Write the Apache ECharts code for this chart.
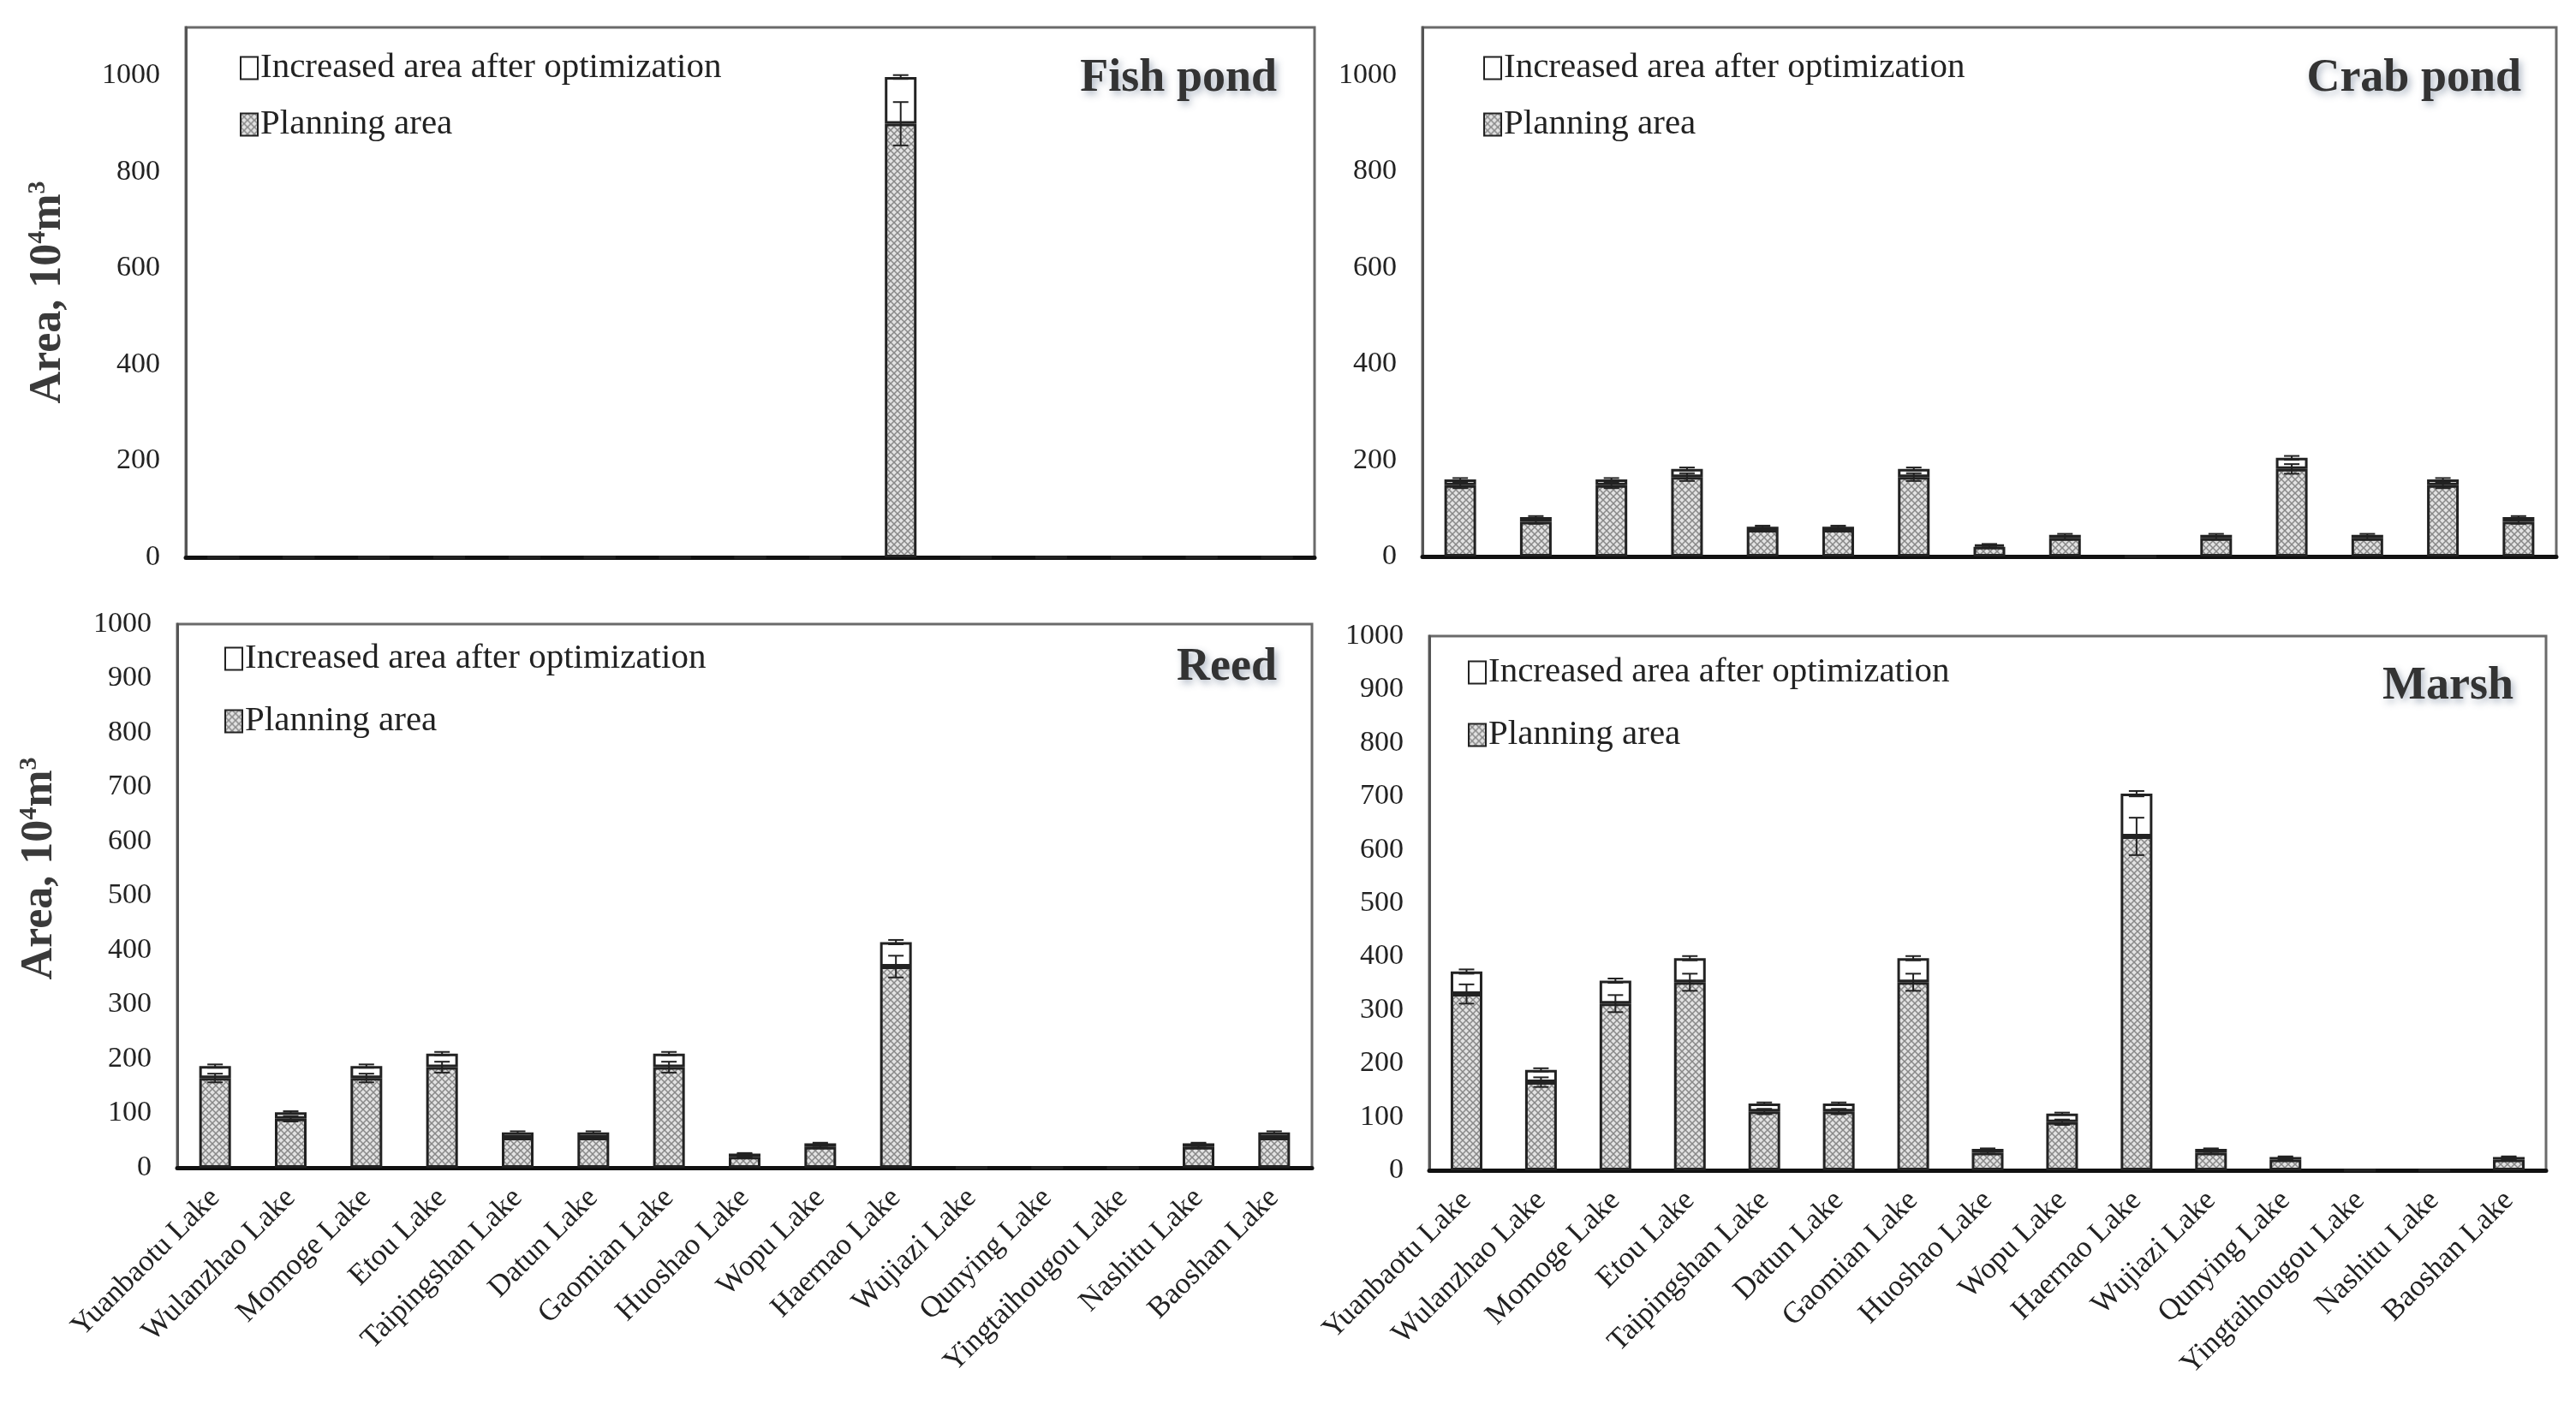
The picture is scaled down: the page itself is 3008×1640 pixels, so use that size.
<!DOCTYPE html>
<html lang="en">
<head>
<meta charset="UTF-8">
<title>Optimized area by lake</title>
<script src="https://cdn.jsdelivr.net/npm/echarts@6/dist/echarts.min.js"></script>
<style>
  html, body { margin: 0; padding: 0; background: #fff; }
  #chart { width: 3008px; height: 1640px; }
</style>
</head>
<body>
<div id="chart"></div>
<script>
// categories
var lakes = ['Yuanbaotu Lake', 'Wulanzhao Lake', 'Momoge Lake', 'Etou Lake', 'Taipingshan Lake',
  'Datun Lake', 'Gaomian Lake', 'Huoshao Lake', 'Wopu Lake', 'Haernao Lake', 'Wujiazi Lake',
  'Qunying Lake', 'Yingtaihougou Lake', 'Nashitu Lake', 'Baoshan Lake'];

// fish pond
var fishPlan    = [0, 0, 0, 0, 0, 0, 0, 0, 0, 900, 0, 0, 0, 0, 0];
var fishInc     = [0, 0, 0, 0, 0, 0, 0, 0, 0, 97, 0, 0, 0, 0, 0];
var fishPlanErr = [0, 0, 0, 0, 0, 0, 0, 0, 0, 45, 0, 0, 0, 0, 0];
var fishIncErr  = [0, 0, 0, 0, 0, 0, 0, 0, 0, 4, 0, 0, 0, 0, 0];

// crab pond
var crabPlan    = [148, 72, 148, 165, 55, 55, 165, 20, 38, 0, 38, 182, 38, 148, 72];
var crabInc     = [12, 10, 12, 17, 7, 7, 17, 5, 7, 0, 7, 23, 7, 12, 10];
var crabPlanErr = [6, 4, 6, 8, 3, 3, 8, 2, 3, 0, 3, 10, 3, 6, 4];
var crabIncErr  = [3, 2, 3, 3, 2, 2, 3, 1, 2, 0, 2, 4, 2, 3, 2];

// reed
var reedPlan    = [165, 90, 165, 185, 55, 55, 185, 20, 38, 370, 0, 0, 0, 38, 55];
var reedInc     = [22, 12, 22, 25, 10, 10, 25, 6, 7, 45, 0, 0, 0, 7, 10];
var reedPlanErr = [8, 5, 8, 10, 3, 3, 10, 1, 2, 20, 0, 0, 0, 2, 3];
var reedIncErr  = [3, 2, 3, 3, 2, 2, 3, 1, 1, 4, 0, 0, 0, 1, 2];

// marsh
var marshPlan    = [330, 165, 312, 352, 110, 110, 352, 33, 90, 625, 33, 20, 0, 0, 20];
var marshInc     = [42, 23, 43, 45, 15, 15, 45, 7, 16, 80, 7, 5, 0, 0, 5];
var marshPlanErr = [18, 9, 16, 16, 5, 5, 16, 2, 5, 35, 2, 1, 0, 0, 1];
var marshIncErr  = [4, 3, 4, 4, 2, 2, 4, 1, 2, 5, 1, 1, 0, 0, 1];

var panelTitles = ['Fish pond', 'Crab pond', 'Reed', 'Marsh'];
var incName = 'Increased area after optimization';
var planName = 'Planning area';

var serif = '"Liberation Serif", "Times New Roman", serif';

// gray cross-hatch used for the planning bars
function makeHatch() {
    var c = document.createElement('canvas');
    c.width = 8; c.height = 8;
    var g = c.getContext('2d');
    g.fillStyle = '#e2e2e2';
    g.fillRect(0, 0, 8, 8);
    g.strokeStyle = '#888';
    g.lineWidth = 1.5;
    g.beginPath();
    g.moveTo(0, 0); g.lineTo(8, 8);
    g.moveTo(8, 0); g.lineTo(0, 8);
    g.stroke();
    return c;
}
var hatch = { image: makeHatch(), repeat: 'repeat' };

function errorItem(params, api) {
    var x = api.value(0);
    var a = api.coord([x, api.value(1)]);
    var b = api.coord([x, api.value(2)]);
    var w = 9;
    var st = { stroke: '#222', lineWidth: 2 };
    return {
        type: 'group',
        children: [
            { type: 'line', shape: { x1: a[0], y1: a[1], x2: b[0], y2: b[1] }, style: st },
            { type: 'line', shape: { x1: a[0] - w, y1: a[1], x2: a[0] + w, y2: a[1] }, style: st },
            { type: 'line', shape: { x1: b[0] - w, y1: b[1], x2: b[0] + w, y2: b[1] }, style: st }
        ]
    };
}

function errData(base, err) {
    var out = [];
    for (var i = 0; i < base.length; i++) {
        if (base[i] > 0) out.push([i, base[i] - err[i], base[i] + err[i]]);
    }
    return out;
}

var panels = [
    { plan: fishPlan, inc: fishInc, pe: fishPlanErr, ie: fishIncErr },
    { plan: crabPlan, inc: crabInc, pe: crabPlanErr, ie: crabIncErr },
    { plan: reedPlan, inc: reedInc, pe: reedPlanErr, ie: reedIncErr },
    { plan: marshPlan, inc: marshInc, pe: marshPlanErr, ie: marshIncErr }
];

var grids = [
    { left: 217, top: 32, width: 1318, height: 619 },
    { left: 1661, top: 32, width: 1324, height: 618 },
    { left: 207, top: 729, width: 1325, height: 635 },
    { left: 1669, top: 743, width: 1304, height: 624 }
];
grids.forEach(function (g) {
    g.show = true;
    g.borderColor = '#6a6a6a';
    g.borderWidth = 3;
});

var titles = [
    { right: 1512, top: 60 },
    { right: 59, top: 60 },
    { right: 1512, top: 748 },
    { right: 68, top: 770 }
];
titles.forEach(function (t, i) {
    t.text = panelTitles[i];
    t.textStyle = {
        fontFamily: serif, fontWeight: 'bold', fontSize: 54, color: '#333',
        textShadowColor: 'rgba(70,90,120,0.45)', textShadowBlur: 8,
        textShadowOffsetX: 3, textShadowOffsetY: 4
    };
});

var legendPos = [
    { left: 275, top: 54 },
    { left: 1727, top: 54 },
    { left: 257, top: 744 },
    { left: 1709, top: 760 }
];
var legends = legendPos.map(function (p, i) {
    return {
        left: p.left, top: p.top, orient: 'vertical',
        itemGap: i >= 2 ? 32 : 25,
        itemWidth: 20, itemHeight: 26, icon: 'rect',
        data: [incName, planName],
        textStyle: { fontFamily: serif, fontSize: 41, color: '#222', padding: [0, 0, 0, -2] },
        selectedMode: false
    };
});

var xAxes = grids.map(function (g, i) {
    return {
        type: 'category', gridIndex: i, data: lakes,
        axisLine: { lineStyle: { color: '#111', width: 5 } },
        axisTick: { inside: true, length: 12, lineStyle: { color: '#111', width: 3 } },
        axisLabel: {
            show: i >= 2, interval: 0, rotate: 45, margin: 30,
            fontFamily: serif, fontSize: 35, color: '#222'
        }
    };
});

var yAxes = grids.map(function (g, i) {
    var top = i < 2;
    var ax = {
        type: 'value', gridIndex: i, min: 0,
        max: top ? 1100 : 1000, interval: top ? 200 : 100,
        axisLine: { show: true, lineStyle: { color: '#555', width: 3 } },
        axisTick: { show: false },
        splitLine: { show: false },
        axisLabel: {
            margin: 30, fontFamily: serif, fontSize: 34, color: '#222',
            showMaxLabel: !top,
            formatter: function (v) { return String(v); }
        }
    };
    if (i === 0 || i === 2) {
        ax.name = 'Area, 10{s|4}m{s|3}';
        ax.nameLocation = 'middle';
        ax.nameGap = 132;
        ax.nameTextStyle = {
            fontFamily: serif, fontWeight: 'bold', fontSize: 52, color: '#3a3a3a',
            padding: i === 2 ? [0, 0, 0, 64] : 0,
            rich: {
                s: { fontFamily: serif, fontWeight: 'bold', fontSize: 30, color: '#3a3a3a', padding: [0, 0, 26, 0] }
            }
        };
    }
    return ax;
});

var series = [];
panels.forEach(function (p, i) {
    var totals = p.plan.map(function (v, k) { return v + p.inc[k]; });
    series.push({
        name: planName, type: 'bar', xAxisIndex: i, yAxisIndex: i, stack: 'st' + i,
        barWidth: 37, data: p.plan,
        itemStyle: { color: hatch, borderColor: '#222', borderWidth: 3 }
    });
    series.push({
        name: incName, type: 'bar', xAxisIndex: i, yAxisIndex: i, stack: 'st' + i,
        barWidth: 37, data: p.inc,
        itemStyle: { color: '#fff', borderColor: '#222', borderWidth: 3 }
    });
    series.push({
        name: 'planErr' + i, type: 'custom', xAxisIndex: i, yAxisIndex: i, z: 5,
        renderItem: errorItem, data: errData(p.plan, p.pe)
    });
    series.push({
        name: 'incErr' + i, type: 'custom', xAxisIndex: i, yAxisIndex: i, z: 5,
        renderItem: errorItem, data: errData(totals, p.ie)
    });
});

var chart = echarts.init(document.getElementById('chart'));
chart.setOption({
    backgroundColor: '#fff',
    animation: false,
    title: titles,
    legend: legends,
    grid: grids,
    xAxis: xAxes,
    yAxis: yAxes,
    series: series
});
</script>
</body>
</html>
